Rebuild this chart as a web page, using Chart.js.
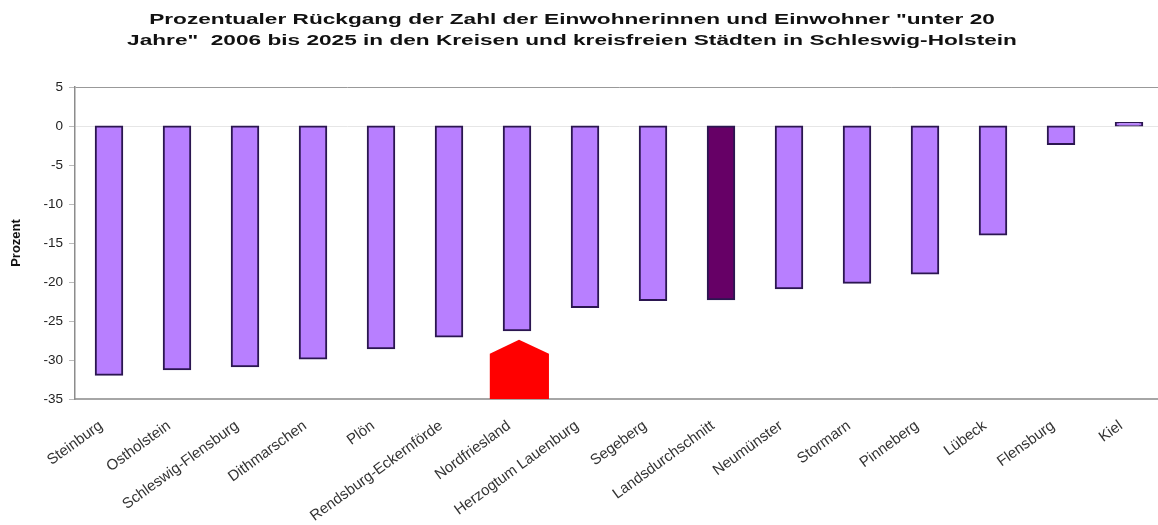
<!DOCTYPE html>
<html><head><meta charset="utf-8">
<style>html,body{margin:0;padding:0;background:#fff;overflow:hidden;width:1158px;height:525px}#w{width:1163px;height:525px}</style>
<script src="https://cdn.jsdelivr.net/npm/chart.js@4"></script></head>
<body><div id="w"><canvas id="c"></canvas></div>
<script>
const titleLines = ['Prozentualer Rückgang der Zahl der Einwohnerinnen und Einwohner "unter 20', 'Jahre"  2006 bis 2025 in den Kreisen und kreisfreien Städten in Schleswig-Holstein'];
const categories = ['Steinburg','Ostholstein','Schleswig-Flensburg','Dithmarschen','Plön','Rendsburg-Eckernförde','Nordfriesland','Herzogtum Lauenburg','Segeberg','Landsdurchschnitt','Neumünster','Stormarn','Pinneberg','Lübeck','Flensburg','Kiel'];
const values = [-31.9,-31.2,-30.8,-29.8,-28.5,-27.0,-26.2,-23.2,-22.3,-22.2,-20.8,-20.1,-18.9,-13.9,-2.3,0.4];
const barColors = categories.map(c => c === 'Landsdurchschnitt' ? '#660066' : '#B87FFF');
const markerX = [5.6,6.03,6.47,6.47,5.6];
const markerY = [-29.2,-27.4,-29.2,-35,-35];
const marker = {id:'marker', afterDatasetsDraw(ch){
  const {ctx,scales:{x,y}} = ch;
  const step = x.getPixelForValue(1)-x.getPixelForValue(0), x0 = x.getPixelForValue(0);
  ctx.save();ctx.fillStyle='#FF0000';ctx.beginPath();
  markerX.forEach((v,i)=>{const px=x0+v*step, py=y.getPixelForValue(markerY[i]); i?ctx.lineTo(px,py):ctx.moveTo(px,py);});
  ctx.closePath();ctx.fill();ctx.restore();
}};
const stretch = {id:'stretch', beforeDraw(ch){
  const t = ch.titleBlock;
  if (t._stretched) return;
  t._stretched = true;
  const draw = t.draw.bind(t), c = ch.ctx, sx = 1.46, target = 572;
  t.draw = function(){
    c.save();
    c.translate(target,0);c.scale(sx,1);c.translate(-ch.width/2,0);
    draw();
    c.restore();
  };
  ch.scales.x.getLabelItems(ch.chartArea).forEach(it => { it.options.translation[0] -= 8; });
}};
new Chart(document.getElementById('c'),{
  type:'bar',
  data:{labels:categories,datasets:[{data:values,backgroundColor:barColors,borderColor:'#2B1650',borderWidth:2,borderSkipped:false,inflateAmount:1,barPercentage:0.39,categoryPercentage:1}]},
  plugins:[stretch,marker],
  options:{
    responsive:true,maintainAspectRatio:false,animation:false,
    layout:{padding:0},
    plugins:{legend:{display:false},tooltip:{enabled:false},
      title:{display:true,text:titleLines,color:'#111',font:{family:'"Liberation Sans"',size:15.5,weight:'bold',lineHeight:1.355},padding:{top:9,bottom:36}}},
    scales:{
      x:{position:'bottom',afterFit(s){s.height=126;},
        grid:{display:false,drawTicks:false},border:{color:'#A6A6A6',width:2},
        ticks:{autoSkip:false,maxRotation:36,minRotation:36,color:'#333',padding:18,font:{family:'"Liberation Sans"',size:15}}},
      y:{min:-35,max:5,afterFit(s){s.width=75;},
        title:{display:true,text:'Prozent',color:'#111',font:{family:'"Liberation Sans Narrow","Liberation Sans"',size:13,weight:'bold'},padding:{top:9,bottom:0}},
        grid:{drawTicks:true,tickLength:6,tickColor:'#BBB',color:c=>c.tick.value===5?'#999':(c.tick.value===0?'#E6E6E6':'rgba(0,0,0,0)')},border:{color:'#8C8C8C',width:1.5},
        ticks:{stepSize:5,color:'#222',padding:6,font:{family:'"Liberation Sans"',size:13.5}}}
    }
  }
});
</script></body></html>
